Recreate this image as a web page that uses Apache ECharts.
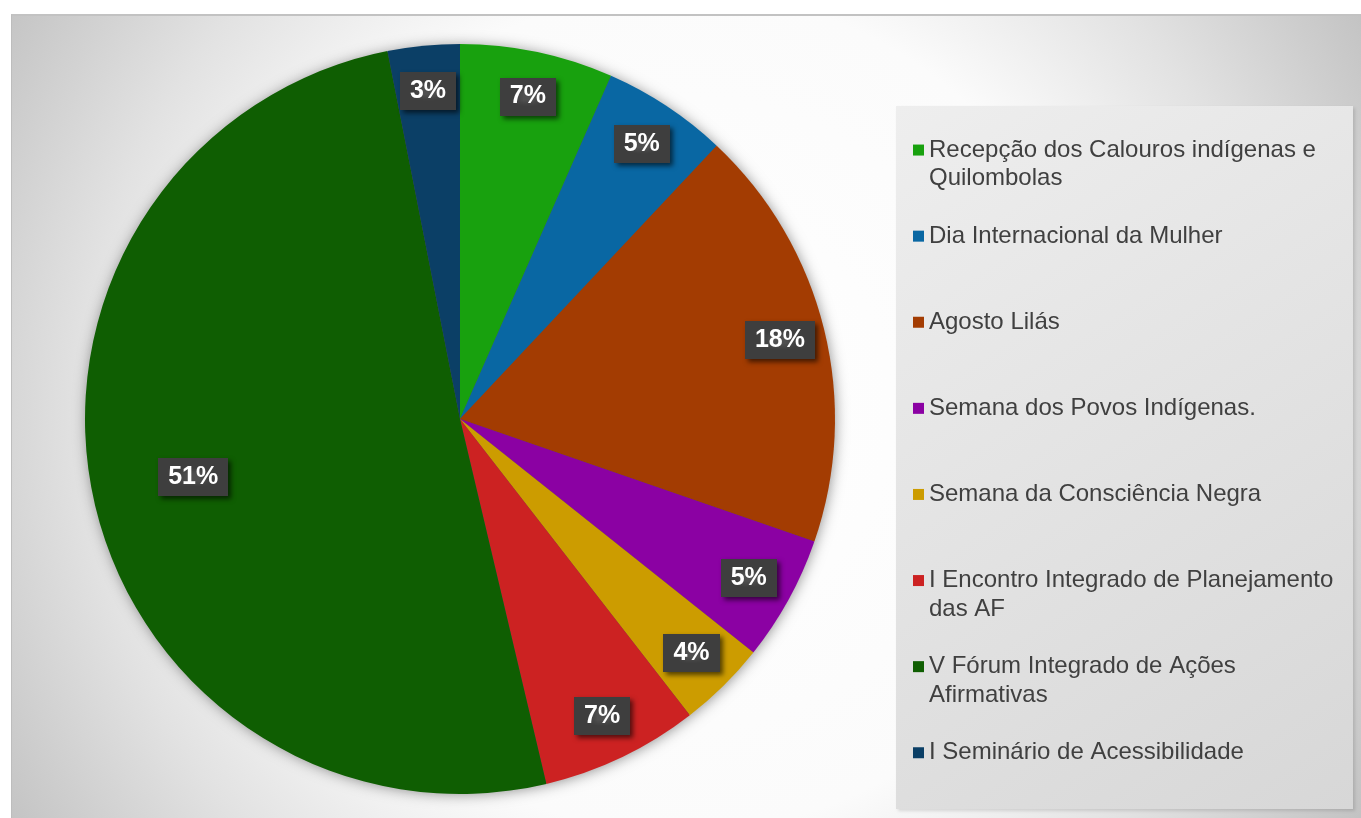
<!DOCTYPE html>
<html>
<head>
<meta charset="utf-8">
<script src="https://cdn.jsdelivr.net/npm/echarts@6/dist/echarts.min.js"></script>
<style>
	html, body { margin: 0; padding: 0; background: #fff; overflow: hidden; }
	#chart {
		position: absolute;
		left: 11px;
		top: 14px;
		width: 1360px;
		height: 810px;
		border-top: 2px solid #c2c2c2;
		border-left: 1px solid #bdbdbd;
		box-sizing: border-box;
		background: radial-gradient(circle at 669px 396px, #ffffff 0, #fbfbfb 420px, #e2e2e2 600px, #c3c3c3 790px);
	}
</style>
</head>
<body>
<div id="chart"></div>
<script>
	// eventos e participação (%)
	const categories = [
		'Recepção dos Calouros indígenas e Quilombolas',
		'Dia Internacional da Mulher',
		'Agosto Lilás',
		'Semana dos Povos Indígenas.',
		'Semana da Consciência Negra',
		'I Encontro Integrado de Planejamento das AF',
		'V Fórum Integrado de Ações Afirmativas',
		'I Seminário de Acessibilidade'
	];
	const legendLines = [
		'Recepção dos Calouros indígenas e\nQuilombolas',
		'Dia Internacional da Mulher',
		'Agosto Lilás',
		'Semana dos Povos Indígenas.',
		'Semana da Consciência Negra',
		'I Encontro Integrado de Planejamento\ndas AF',
		'V Fórum Integrado de Ações\nAfirmativas',
		'I Seminário de Acessibilidade'
	];
	const values = [6.6, 5.4, 18.3, 5.4, 3.8, 6.8, 50.6, 3.1];
	const colors = ['#18a10e', '#0967a3', '#a33c02', '#8b01a3', '#cc9c00', '#cc2222', '#0f5e02', '#0b3f66'];

	// fundo pontilhado dos rótulos
	const dots = document.createElement('canvas');
	dots.width = 6;
	dots.height = 6;
	const dctx = dots.getContext('2d');
	dctx.fillStyle = '#3e3e3e';
	dctx.fillRect(0, 0, 6, 6);
	dctx.fillStyle = '#505050';
	dctx.fillRect(2, 2, 2, 2);

	const chart = echarts.init(document.getElementById('chart'));
	const center = [448, 403];
	const R = 375;
	const BIG = 40; // fatias grandes: rótulo mais para dentro

	const labelStyle = {
		show: true,
		position: 'inside',
		formatter: '{d}%',
		fontFamily: 'Liberation Sans',
		fontWeight: 'bold',
		fontSize: 25,
		color: '#ffffff',
		backgroundColor: { image: dots, repeat: 'repeat' },
		padding: [8, 10, 5, 10],
		shadowColor: 'rgba(0,0,0,0.6)',
		shadowBlur: 5,
		shadowOffsetX: 3,
		shadowOffsetY: 3
	};

	function labelRing(inner, pick) {
		return {
			type: 'pie',
			center: center,
			radius: [inner, R],
			startAngle: 90,
			clockwise: true,
			silent: true,
			z: 3,
			percentPrecision: 0,
			legendHoverLink: false,
			itemStyle: { color: 'rgba(0,0,0,0)', borderWidth: 0 },
			label: labelStyle,
			labelLine: { show: false },
			data: categories.map((name, i) => ({
				name: name,
				value: values[i],
				label: { show: pick(values[i]) }
			}))
		};
	}

	const option = {
		animation: false,
		graphic: [{
			type: 'rect',
			left: 884,
			top: 90,
			shape: { width: 457, height: 703 },
			style: {
				fill: new echarts.graphic.LinearGradient(0, 0, 1, 1, [
					{ offset: 0, color: '#eeeeee' },
					{ offset: 1, color: '#d7d7d7' }
				]),
				shadowColor: 'rgba(0,0,0,0.12)',
				shadowBlur: 3,
				shadowOffsetX: 2,
				shadowOffsetY: 2
			},
			z: -1
		}],
		legend: {
			orient: 'vertical',
			left: 884,
			top: 91,
			padding: [0, 10, 14, 17],
			itemGap: 0,
			itemWidth: 11,
			itemHeight: 11,
			icon: 'rect',
			data: categories,
			formatter: function (name) {
				const txt = legendLines[categories.indexOf(name)];
				return '\n' + txt + (txt.indexOf('\n') < 0 ? '\n' : '');
			},
			textStyle: {
				fontFamily: 'Liberation Sans',
				fontSize: 24,
				lineHeight: 28.7,
				color: '#404040'
			}
		},
		series: [
			{
				// sombra do disco
				type: 'pie',
				center: center,
				radius: [0, R - 1],
				silent: true,
				z: 1,
				label: { show: false },
				labelLine: { show: false },
				itemStyle: {
					color: '#555555',
					shadowColor: 'rgba(0,0,0,0.45)',
					shadowBlur: 14,
					shadowOffsetX: 1,
					shadowOffsetY: 1
				},
				data: [{ name: '', value: 1 }]
			},
			{
				type: 'pie',
				center: center,
				radius: [0, R],
				startAngle: 90,
				clockwise: true,
				silent: true,
				z: 2,
				label: { show: false },
				labelLine: { show: false },
				itemStyle: { borderWidth: 0 },
				data: categories.map((name, i) => ({
					name: name,
					value: values[i],
					itemStyle: { color: colors[i] }
				}))
			},
			labelRing(278, v => v < BIG),
			labelRing(165, v => v >= BIG)
		]
	};
	option && chart.setOption(option);
</script>
</body>
</html>
